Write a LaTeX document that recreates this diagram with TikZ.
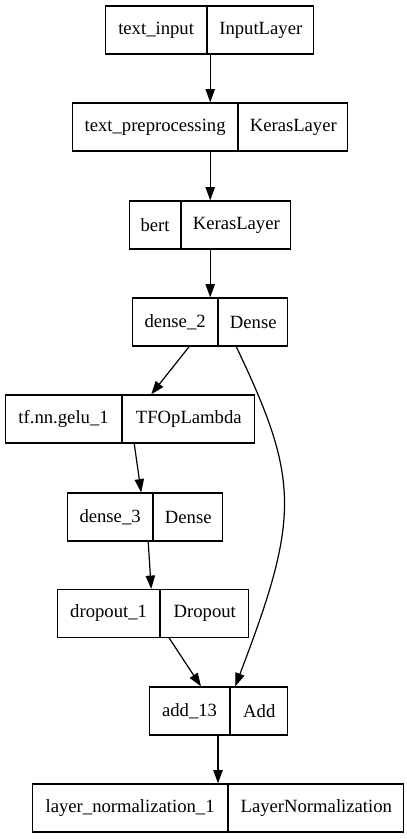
\documentclass[tikz,border=0pt]{standalone}
\usepackage{fontspec}
\setmainfont{Liberation Serif}
\usepackage{tikz}
\usetikzlibrary{arrows.meta, positioning, calc}

\begin{document}
\begin{tikzpicture}[x=0.75pt, y=-0.75pt,
    cell/.style={draw, line width=0.9pt, minimum height=36pt, inner sep=0pt,
      font=\fontsize{14}{16}\selectfont},
    cw/.style={minimum width=#1*0.75pt},
    edge/.style={line width=0.9pt, -{Triangle[length=10pt, width=7pt]}}]
        % --- Canvas ---
        \useasboundingbox[fill=white] (0,0) rectangle (407,839);

        % Layers (name | class)
        \node[cell, cw=101, anchor=west] (input) at (105,30) {text\_input};
        \node[cell, cw=106, right=0pt of input] (inputt) {InputLayer};

        \node[cell, cw=165, anchor=west] (prep) at (72,127) {text\_preprocessing};
        \node[cell, cw=109, right=0pt of prep] (prept) {KerasLayer};

        \node[cell, cw=51, anchor=west] (bert) at (129,225) {bert};
        \node[cell, cw=109, right=0pt of bert] (bertt) {KerasLayer};

        \node[cell, cw=85, anchor=west] (dense2) at (132,322) {dense\_2};
        \node[cell, cw=69, right=0pt of dense2] (dense2t) {Dense};

        \node[cell, cw=116, anchor=west] (gelu) at (5,419) {tf.nn.gelu\_1};
        \node[cell, cw=132, right=0pt of gelu] (gelut) {TFOpLambda};

        \node[cell, cw=85, anchor=west] (dense3) at (67,517) {dense\_3};
        \node[cell, cw=69, right=0pt of dense3] (dense3t) {Dense};

        \node[cell, cw=102, anchor=west] (drop) at (57,613.5) {dropout\_1};
        \node[cell, cw=88, right=0pt of drop] (dropt) {Dropout};

        \node[cell, cw=80, anchor=west] (add) at (149,711) {add\_13};
        \node[cell, cw=57, right=0pt of add] (addt) {Add};

        \node[cell, cw=195, anchor=west] (ln) at (32,808) {layer\_normalization\_1};
        \node[cell, cw=175, right=0pt of ln] (lnt) {LayerNormalization};

        % Edges
        \draw[edge] ($(input.south east)+(3,0)$) -- ($(prep.north east)+(-28,0)$);
        \draw[edge] ($(prep.south east)+(-28,0)$) -- ($(bert.north east)+(29,0)$);
        \draw[edge] ($(bert.south east)+(29,0)$) -- ($(dense2.north east)+(-8,0)$);
        \draw[edge] ($(dense2.south east)+(-29,0)$) -- ($(gelu.north east)+(29,0)$);
        \draw[edge] ($(gelu.south east)+(12,0)$) -- ($(dense3.north east)+(-12,0)$);
        \draw[edge] ($(dense3.south east)+(-5,0)$) -- ($(drop.north east)+(-9,0)$);
        \draw[edge] ($(drop.south east)+(9,0)$) -- ($(add.north west)+(52,0)$);
        \draw[edge] ($(dense2t.south west)+(18,0)$) .. controls (300,480) and (300,517) .. ($(addt.north west)+(5,0)$);
        \draw[edge] ($(add.south west)+(69,0)$) -- ($(ln.north west)+(186,0)$);
\end{tikzpicture}
\end{document}
